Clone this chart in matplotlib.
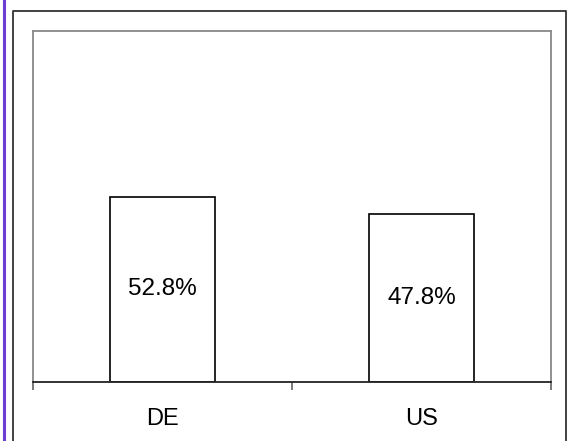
import matplotlib.pyplot as plt
from matplotlib.lines import Line2D

plt.rcParams['font.family'] = ['Liberation Sans', 'DejaVu Sans']

countries = ['DE', 'US']
shares = [52.8, 47.8]

W, H = 568, 441
fig = plt.figure(figsize=(W / 100, H / 100), dpi=100)
fig.patch.set_facecolor('white')

# frame around the chart and the purple rule on the left
fig.add_artist(Line2D([4 / W, 4 / W], [0, 1], color='#6b3fd4', lw=2.2))
fig.add_artist(Line2D([12.5 / W, 12.5 / W, 565.5 / W, 565.5 / W],
                      [0, 1 - 10.5 / H, 1 - 10.5 / H, 0], color='#333333', lw=1.3))

ax = fig.add_axes([33 / W, (H - 382) / H, 518 / W, (382 - 31) / H])
pos = [0.5 + i for i in range(len(countries))]
bars = ax.bar(pos, shares, width=0.405, color='white', edgecolor='black', linewidth=1.2)

for b, v in zip(bars, shares):
    ax.text(b.get_x() + b.get_width() / 2, v / 2, f'{v:.1f}%',
            ha='center', va='center', fontsize=17.5)

ax.set_xlim(0, len(countries))
ax.set_ylim(0, 100)
ax.set_yticks([])

ax.set_xticks(range(len(countries) + 1))
ax.set_xticklabels([])
ax.tick_params(axis='x', which='major', direction='out', length=6, width=1.1, color='#555555')
ax.set_xticks(pos, minor=True)
ax.set_xticklabels(countries, minor=True, fontsize=17)
ax.tick_params(axis='x', which='minor', length=0, pad=19)

for side in ['left', 'top', 'right']:
    ax.spines[side].set_color('#888888')
    ax.spines[side].set_linewidth(1.3)
ax.spines['bottom'].set_color('#222222')
ax.spines['bottom'].set_linewidth(1.3)

fig.savefig('out.png', dpi=100)
